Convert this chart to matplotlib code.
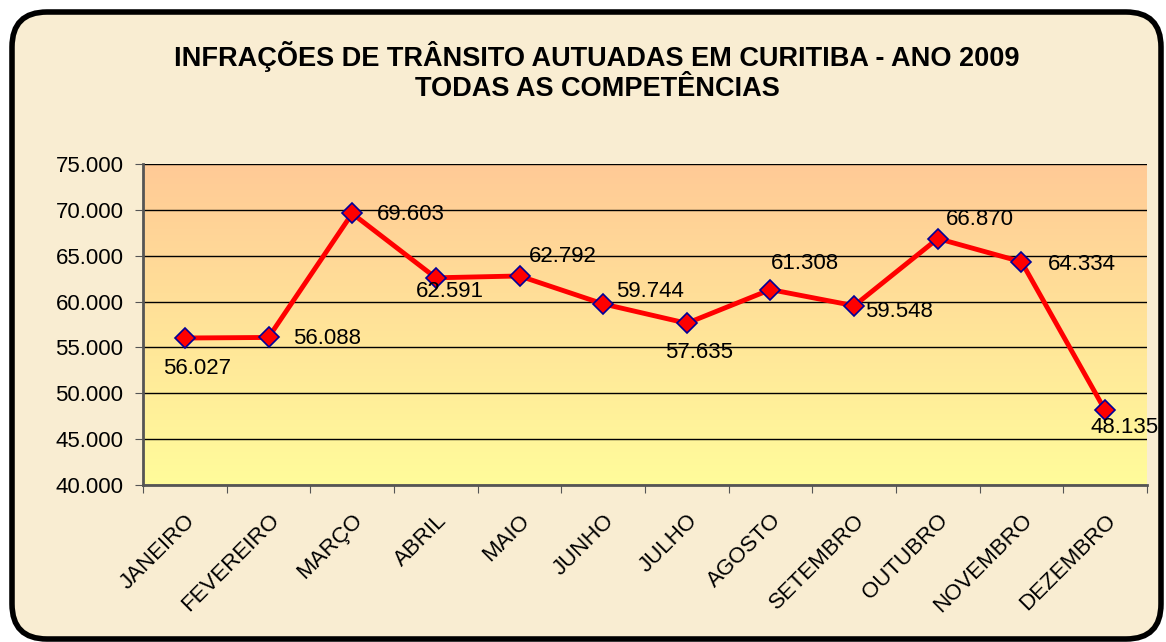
import numpy as np
import matplotlib
matplotlib.use("Agg")
import matplotlib.pyplot as plt
from matplotlib.patches import FancyBboxPatch
from matplotlib.ticker import FuncFormatter

plt.rcParams["font.family"] = ["Liberation Sans", "DejaVu Sans"]

months = ["JANEIRO", "FEVEREIRO", "MARÇO", "ABRIL", "MAIO", "JUNHO",
          "JULHO", "AGOSTO", "SETEMBRO", "OUTUBRO", "NOVEMBRO", "DEZEMBRO"]
infractions = [56027, 56088, 69603, 62591, 62792, 59744,
               57635, 61308, 59548, 66870, 64334, 48135]

# label placement (offset in points, horizontal alignment), like Excel's auto layout
label_offsets = [(9, -22, "center"), (18, -1, "left"), (18, -1, "left"),
                 (10, -10, "center"), (7, 14, "left"), (9, 9, "left"),
                 (9, -21, "center"), (25, 19, "center"), (8, -4, "left"),
                 (6, 14, "left"), (19, -2, "left"), (14, -12, "center")]


def fmt_thousands(v, pos=None):
    return f"{int(round(v)):,}".replace(",", ".")


fig = plt.figure(figsize=(11.66, 6.42), dpi=100)
fig.patch.set_facecolor("white")

# parchment panel with rounded black border (pixel coordinates)
panel = FancyBboxPatch((12, 3), 1149, 627,
                       boxstyle="round,pad=0,rounding_size=35",
                       transform=None, facecolor="#F9EDD2",
                       edgecolor="black", linewidth=4, zorder=-1)
fig.patches.append(panel)

ax = fig.add_axes([143 / 1166, 1 - 485 / 642, 1004 / 1166, 321 / 642])
ax.set_facecolor("none")

# orange -> yellow gradient in plot area
grad = np.linspace(0, 1, 256).reshape(-1, 1)
top = np.array([255, 202, 150]) / 255
bot = np.array([255, 252, 155]) / 255
img = top * (1 - grad[..., None]) + bot * grad[..., None]
ax.imshow(img, extent=[0, 1, 0, 1], transform=ax.transAxes,
          aspect="auto", zorder=0, origin="upper")

x = np.arange(len(months)) + 0.5
ax.set_xlim(0, len(months))
ax.set_ylim(40000, 75000)
ax.set_yticks(np.arange(40000, 75001, 5000))
ax.yaxis.set_major_formatter(FuncFormatter(fmt_thousands))
ax.grid(axis="y", color="black", linewidth=1, zorder=1)

ax.set_xticks(np.arange(0, len(months) + 1))
ax.set_xticklabels([])
ax.set_xticks(x, minor=True)
ax.set_xticklabels(months, minor=True, rotation=45, ha="right",
                   rotation_mode="anchor", fontsize=16)
ax.tick_params(axis="x", which="minor", length=0, pad=18)
ax.tick_params(axis="x", which="major", length=6, color="#555555", direction="out")
ax.tick_params(axis="y", length=6, color="#555555", labelsize=16, pad=8)

for s in ["top", "right"]:
    ax.spines[s].set_visible(False)
for s in ["left", "bottom"]:
    ax.spines[s].set_color("#555555")
    ax.spines[s].set_linewidth(2)
    ax.spines[s].set_zorder(3)

ax.plot(x, infractions, color="#FF0000", linewidth=3.5, zorder=4,
        marker="D", markersize=10, markerfacecolor="#FF0000",
        markeredgecolor="#000099", markeredgewidth=1.2)

for xi, v, (dx, dy, ha) in zip(x, infractions, label_offsets):
    ax.annotate(fmt_thousands(v), (xi, v), xytext=(dx, dy),
                textcoords="offset points", ha=ha, va="center",
                fontsize=16, zorder=5)

fig.text(0.512, 0.889, "INFRAÇÕES DE TRÂNSITO AUTUADAS EM CURITIBA - ANO 2009\nTODAS AS COMPETÊNCIAS",
         ha="center", va="center", fontsize=19.5, fontweight="bold",
         linespacing=1.2)

fig.savefig("out.png", dpi=100, facecolor=fig.get_facecolor())
